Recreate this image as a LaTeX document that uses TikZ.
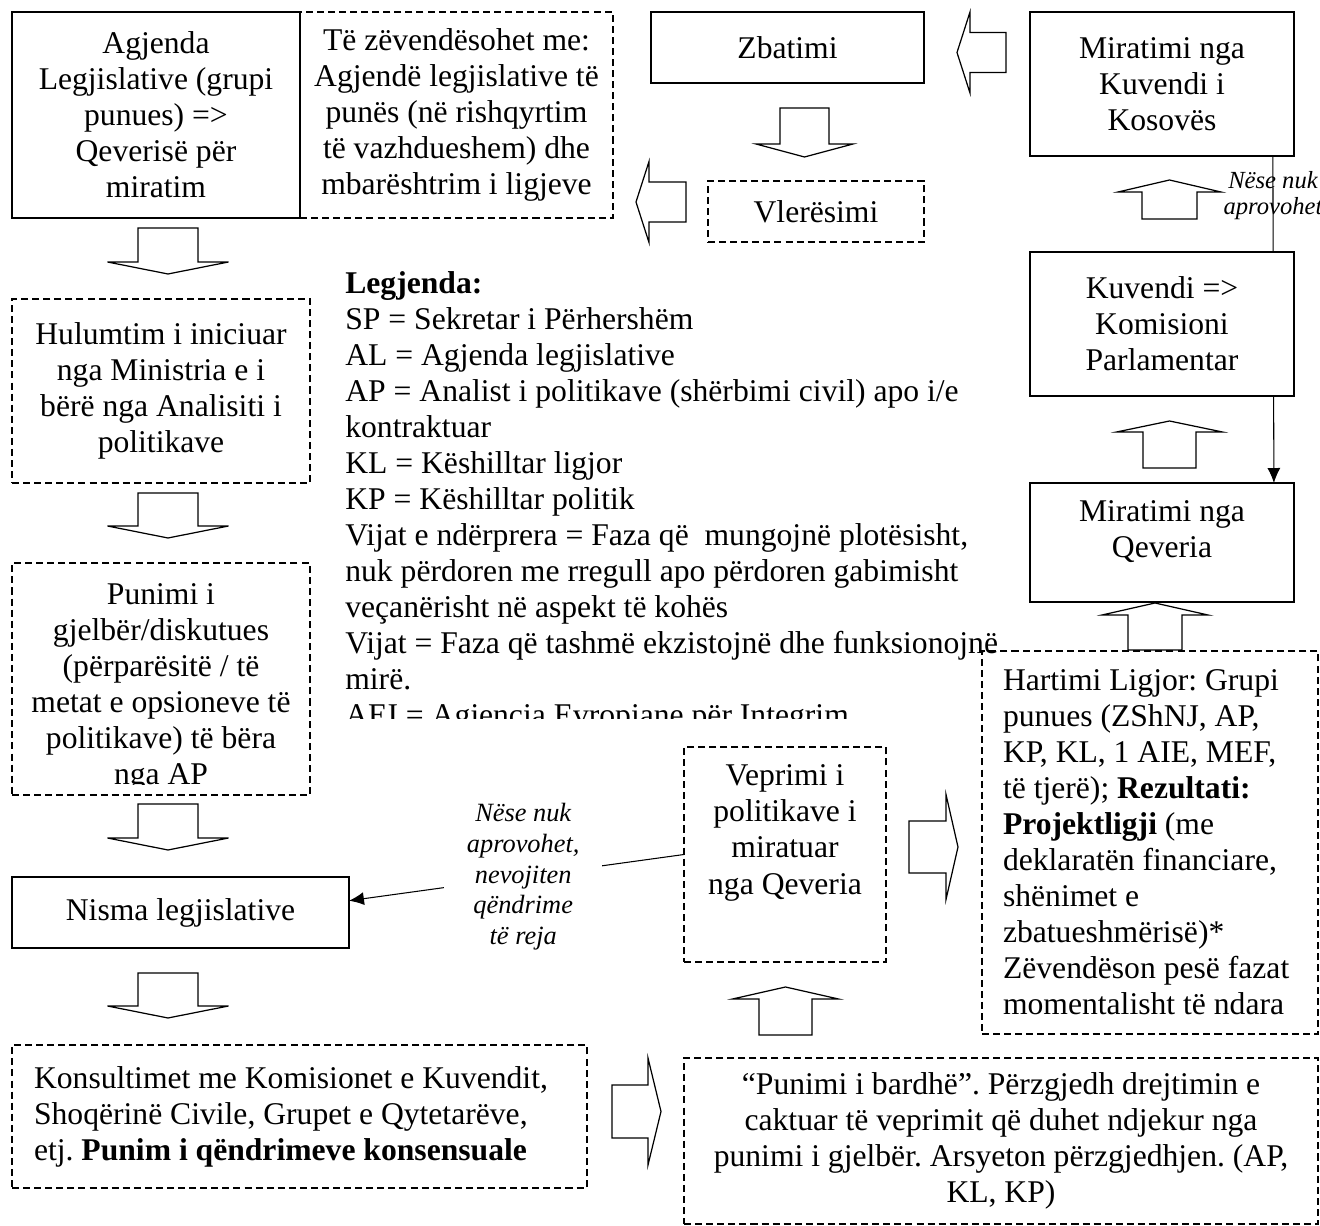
\documentclass[tikz,border=0pt]{standalone}
\usepackage{fontspec}
\setmainfont{Liberation Serif}
\frenchspacing
\usetikzlibrary{arrows.meta,backgrounds}

\begin{document}
\begin{tikzpicture}[x=0.02cm,y=-0.02cm,
  bx/.style={draw,line width=0.75pt,fill=white,inner sep=0pt,outer sep=0pt,
    align=center,font=\fontsize{18}{20.5}\selectfont},
  dbx/.style={bx,line width=0.7pt,dash pattern=on 4pt off 2.3pt},
  arr/.style={-{Latex[length=0.3cm,width=0.26cm]},line width=0.6pt},
  note/.style={align=center,inner sep=0pt,font=\fontsize{15}{17.6}\selectfont\itshape},
  blkdim/.code args={#1/#2/#3/#4}{\def\bs{#1}\def\bh{#2}\def\bl{#3}\def\bt{#4}},
  blk/.pic={\draw[fill=white,line width=0.7pt] (-\bs,0) -- (-\bs,\bl) -- (-\bh,\bl)
    -- (0,\bl+\bt) -- (\bh,\bl) -- (\bs,\bl) -- (\bs,0) -- cycle;}
]
\useasboundingbox (0,0) rectangle (1320,1226);

\node[dbx,minimum width=6.26cm,minimum height=4.12cm] (zev) at (456.5,115)
  {Të zëvendësohet me:\\Agjendë legjislative të\\punës (në rishqyrtim\\të vazhdueshem) dhe\\mbarështrim i ligjeve};
\node[bx,minimum width=5.76cm,minimum height=4.12cm] (agj) at (156,115)
  {Agjenda\\Legjislative (grupi\\punues) =>\\Qeverisë për\\miratim};
\node[bx,minimum width=5.46cm,minimum height=1.42cm] (zbat) at (787.5,47.5) {Zbatimi};
\node[bx,minimum width=5.28cm,minimum height=2.88cm] (mirk) at (1162,84)
  {Miratimi nga\\Kuvendi i\\Kosovës};
\node[dbx,minimum width=4.32cm,minimum height=1.22cm] (vler) at (816,211.5) {Vlerësimi};
\node[dbx,minimum width=5.96cm,minimum height=3.68cm] (hul) at (161,391)
  {Hulumtim i iniciuar\\nga Ministria e i\\bërë nga Analisiti i\\politikave};
\node[bx,minimum width=5.28cm,minimum height=2.88cm] (kuv) at (1162,324)
  {Kuvendi =>\\Komisioni\\Parlamentar};
\node[bx,minimum width=5.28cm,minimum height=2.38cm,text depth=0.55cm] (mirq) at (1162,542.5)
  {Miratimi nga\\Qeveria};
\node[dbx,minimum width=5.96cm,minimum height=4.64cm] (pun) at (161,679) {};
\begin{scope}
  \clip (14,565) rectangle (308,785);
  \node[anchor=north,align=center,inner sep=0pt,font=\fontsize{18}{20.5}\selectfont] (puntxt) at (161,583)
    {Punimi i\\gjelbër/diskutues\\(përparësitë / të\\metat e opsioneve të\\politikave) të bëra\\nga AP};
\end{scope}
\node[dbx,minimum width=6.72cm,minimum height=7.66cm,text width=5.88cm,align=flush left] (hart) at (1150,842.5)
  {Hartimi Ligjor: Grupi\\punues (ZShNJ, AP,\\KP, KL, 1 AIE, MEF,\\të tjerë); \textbf{Rezultati:}\\\textbf{Projektligji} (me\\deklaratën financiare,\\shënimet e\\zbatueshmërisë)*\\Zëvendëson pesë fazat\\momentalisht të ndara};
\node[dbx,minimum width=4.04cm,minimum height=4.30cm,text depth=1.0cm] (vep) at (785,854.5)
  {Veprimi i\\politikave i\\miratuar\\nga Qeveria};
\node[bx,minimum width=6.74cm,minimum height=1.42cm] (nis) at (180.5,912.5) {Nisma legjislative};
\node[dbx,minimum width=11.5cm,minimum height=2.86cm,text width=10.62cm,align=flush left] (kon) at (299.5,1116.5)
  {Konsultimet me Komisionet e Kuvendit,\\Shoqërinë Civile, Grupet e Qytetarëve,\\etj. \textbf{Punim i qëndrimeve konsensuale}};
\node[dbx,minimum width=12.68cm,minimum height=3.32cm] (bard) at (1001,1141)
  {“Punimi i bardhë”. Përzgjedh drejtimin e\\caktuar të veprimit që duhet ndjekur nga\\punimi i gjelbër. Arsyeton përzgjedhjen. (AP,\\KL, KP)};

\begin{scope}
  \clip (340,262) rectangle (1000,719);
  \node[anchor=north west,align=flush left,inner sep=0pt,font=\fontsize{18}{20.5}\selectfont] (leg) at (345,271)
    {\textbf{Legjenda:}\\SP = Sekretar i Përhershëm\\AL = Agjenda legjislative\\AP = Analist i politikave (shërbimi civil) apo i/e\\kontraktuar\\KL = Këshilltar ligjor\\KP = Këshilltar politik\\Vijat e ndërprera = Faza që \ mungojnë plotësisht,\\nuk përdoren me rregull apo përdoren gabimisht\\veçanërisht në aspekt të kohës\\Vijat = Faza që tashmë ekzistojnë dhe funksionojnë\\mirë.\\AEI = Agjencia Evropiane për Integrim};
\end{scope}

\begin{scope}[on background layer]
  \draw[arr] (mirk.-33.7) -- node[note,pos=0.12,font=\fontsize{14}{14.8}\selectfont\itshape] (nese)
    {Nëse nuk\\aprovohet} (mirq.28.85);
\end{scope}
\draw[arr] (vep.west) -- node[note,pos=0.48,fill=white,inner xsep=0.46cm] (cond)
  {Nëse nuk\\aprovohet,\\nevojiten\\qëndrime\\të reja} (nis.4);

\pic[blkdim=30/60.5/34/12] at (168,228) {blk};
\pic[blkdim=30/60.5/33/12] at (168,493) {blk};
\pic[blkdim=30/60.5/34/12] at (168,804) {blk};
\pic[blkdim=30/60.5/33/12] at (168,973) {blk};
\pic[blkdim=24.5/48.5/36/13] at (804.5,108) {blk};
\pic[blkdim=27.5/51.5/27/12,rotate=180] at (1169.5,219) {blk};
\pic[blkdim=26.5/53/36/11,rotate=180] at (1169.5,468) {blk};
\pic[blkdim=27/53/35/12,rotate=180] at (1155,650) {blk};
\pic[blkdim=26.5/53/36/12,rotate=180] at (785.5,1035) {blk};
\pic[blkdim=20/40.5/36/13,rotate=-90] at (1006,52.5) {blk};
\pic[blkdim=20/40.5/37/13,rotate=-90] at (686,202) {blk};
\pic[blkdim=26/52.5/37/12,rotate=90] at (909,847) {blk};
\pic[blkdim=26.5/53.5/36/13,rotate=90] at (612,1111.5) {blk};
\end{tikzpicture}
\end{document}
